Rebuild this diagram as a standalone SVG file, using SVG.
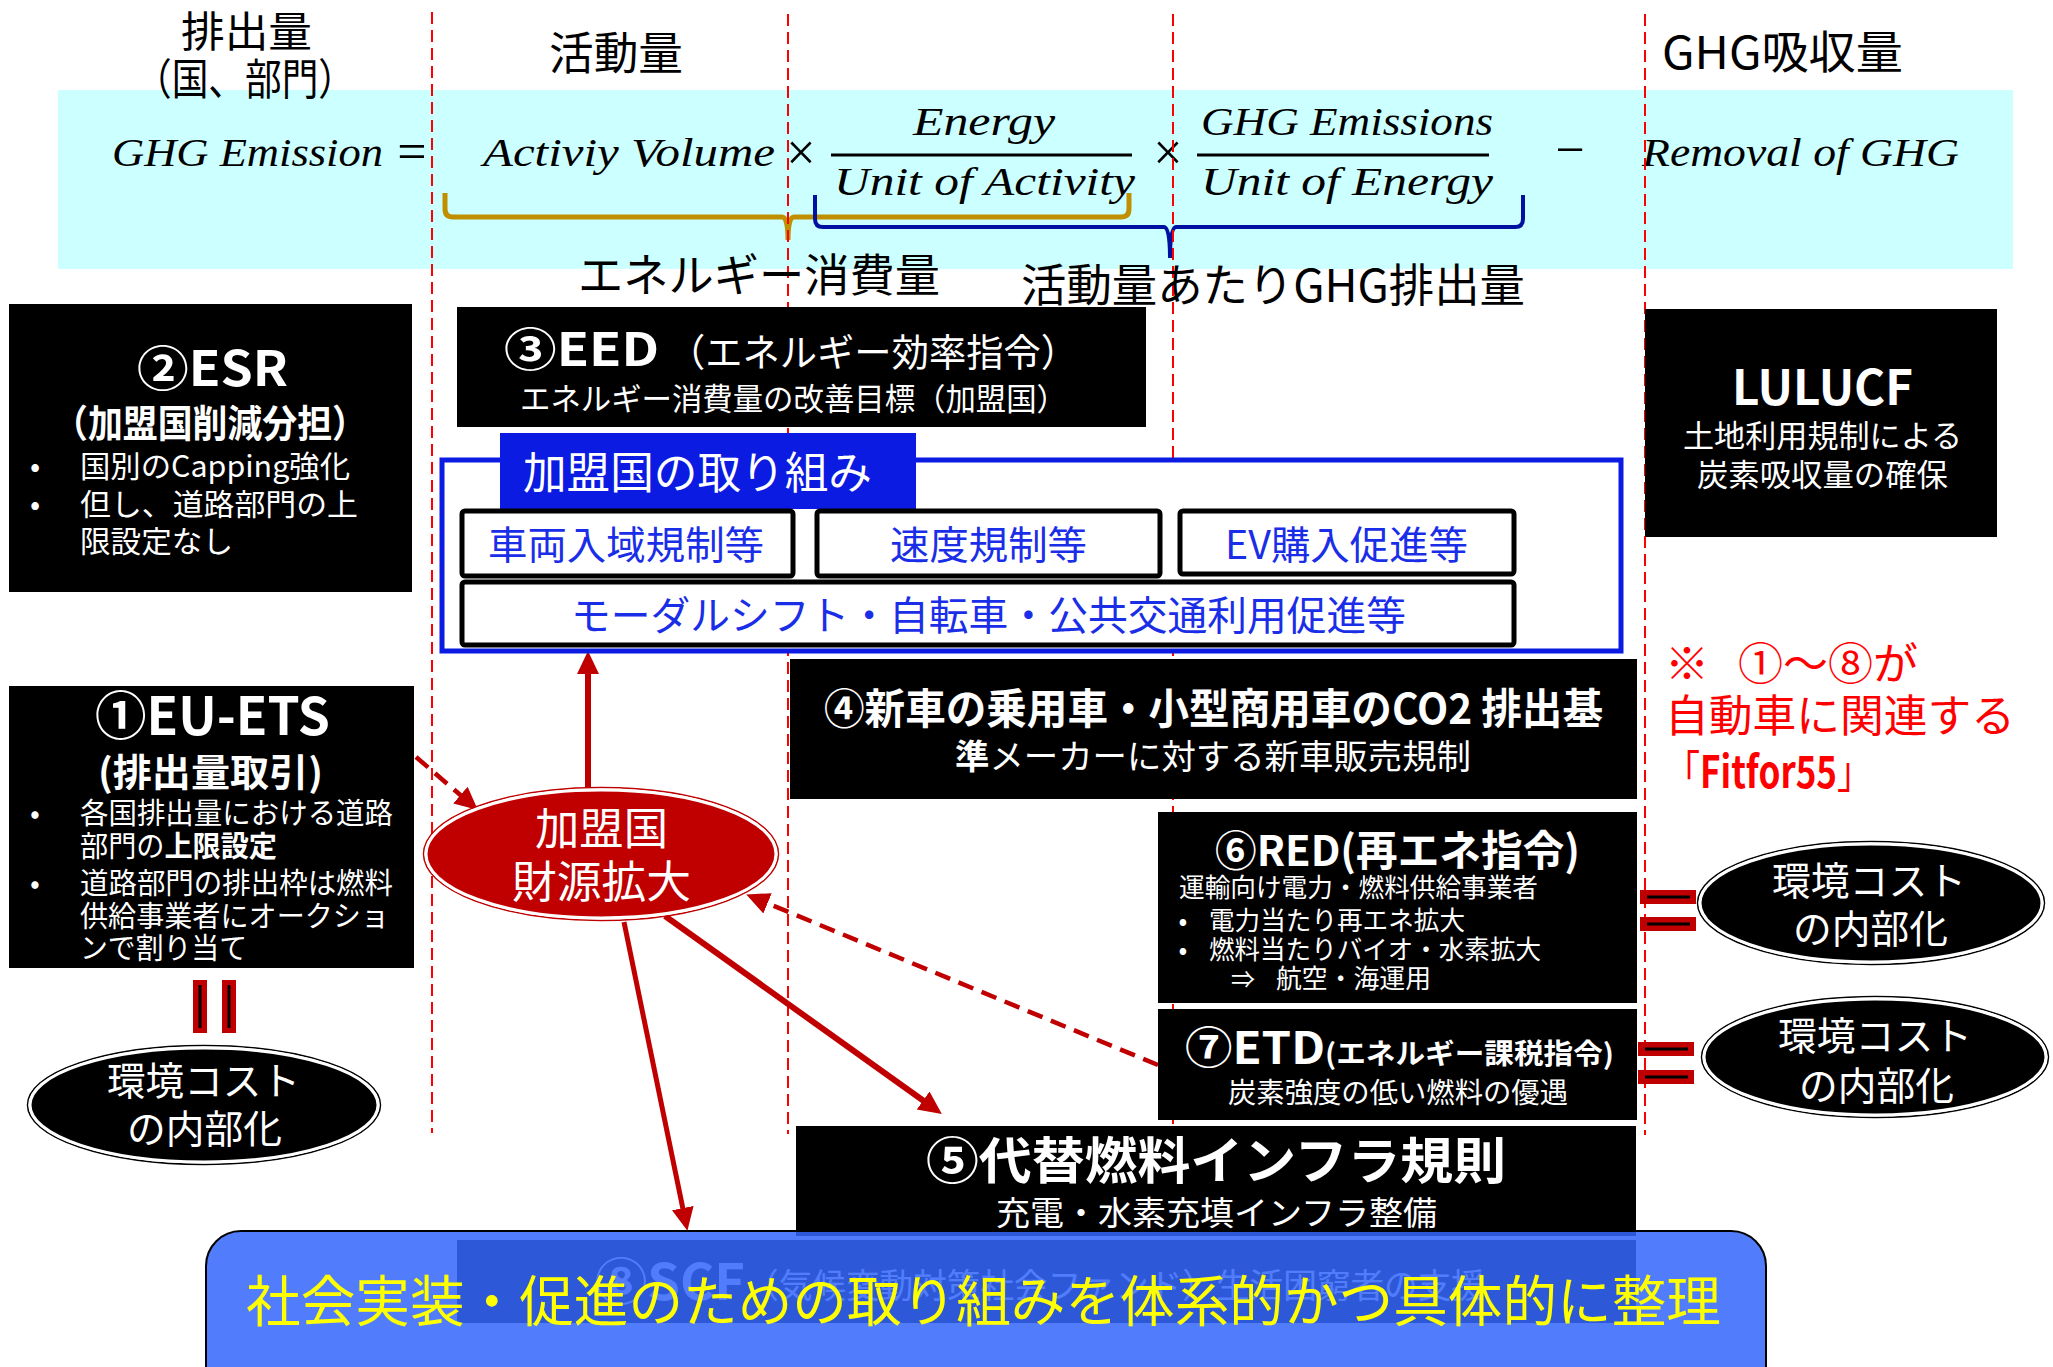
<svg xmlns="http://www.w3.org/2000/svg" width="2053" height="1367" viewBox="0 0 2053 1367">
<style>
.jp{font-family:'Noto Sans CJK JP','Noto Sans',sans-serif}
.w{fill:#fff}
.k{fill:#000}
.b{font-weight:bold}
.m{font-family:'Liberation Serif','DejaVu Serif',serif;font-style:italic;font-size:41px;fill:#000}
.op{font-family:'Liberation Serif','DejaVu Serif',serif;font-size:52px;fill:#000}
.box{fill:#000}
.vd{stroke:#FF0000;stroke-width:2;stroke-dasharray:12 6;fill:none}
.inner{fill:#fff;stroke:#000;stroke-width:5}
.bt{fill:#1A2EE8}
.red{fill:#FF0000}
.eqbar{fill:#C00000}
.eqline{stroke:#000;stroke-width:3}
.arr{stroke:#C00000;fill:none}
</style>
<defs>
<marker id="ah" markerUnits="userSpaceOnUse" markerWidth="24" markerHeight="24" refX="6" refY="12" orient="auto">
<path d="M0,1 L23,12 L0,23 z" fill="#C00000"/>
</marker>
</defs>
<rect width="2053" height="1367" fill="#fff"/>

<!-- formula band -->
<g id="formula">
<rect x="58" y="90" width="1955" height="179" fill="#CCFFFF"/>
<text class="m" x="112" y="166" textLength="271" lengthAdjust="spacingAndGlyphs">GHG Emission</text>
<text class="op" x="412" y="169" text-anchor="middle">=</text>
<text class="m" x="483" y="166" textLength="292" lengthAdjust="spacingAndGlyphs">Activiy Volume</text>
<text class="op" x="801" y="170" text-anchor="middle">×</text>
<line x1="831" y1="155" x2="1132" y2="155" stroke="#000" stroke-width="3"/>
<text class="m" x="913" y="135" textLength="142" lengthAdjust="spacingAndGlyphs">Energy</text>
<text class="m" x="834" y="195" textLength="301" lengthAdjust="spacingAndGlyphs">Unit of Activity</text>
<text class="op" x="1168" y="170" text-anchor="middle">×</text>
<line x1="1197" y1="155" x2="1489" y2="155" stroke="#000" stroke-width="3"/>
<text class="m" x="1201" y="135" textLength="292" lengthAdjust="spacingAndGlyphs">GHG Emissions</text>
<text class="m" x="1201" y="195" textLength="292" lengthAdjust="spacingAndGlyphs">Unit of Energy</text>
<text class="op" x="1570" y="167" text-anchor="middle">−</text>
<text class="m" x="1642" y="166" textLength="317" lengthAdjust="spacingAndGlyphs">Removal of GHG</text>
<path d="M445,193 L445,209 Q445,217 453,217 L782,217 Q788,217 788,240 Q788,217 794,217 L1121,217 Q1129,217 1129,209 L1129,193" fill="none" stroke="#BF8F00" stroke-width="5"/>
<path d="M815,195 L815,219 Q815,227 823,227 L1164,227 Q1170,227 1170,258 Q1170,227 1176,227 L1515,227 Q1523,227 1523,219 L1523,195" fill="none" stroke="#0010A0" stroke-width="4"/>
</g>

<!-- column dividers -->
<g id="dividers">
<line class="vd" x1="432" y1="12" x2="432" y2="1133"/>
<line class="vd" x1="788" y1="14" x2="788" y2="1134"/>
<line class="vd" x1="1173" y1="14" x2="1173" y2="1134"/>
<line class="vd" x1="1645" y1="14" x2="1645" y2="1135"/>
</g>

<!-- headings -->
<g id="headings" class="jp">
<text x="181" y="47" font-size="42" textLength="131" lengthAdjust="spacingAndGlyphs">排出量</text>
<text x="135" y="95" font-size="43" textLength="220" lengthAdjust="spacingAndGlyphs">（国、部門）</text>
<text x="549" y="70" font-size="45" textLength="134" lengthAdjust="spacingAndGlyphs">活動量</text>
<text x="1662" y="69" font-size="45" textLength="241" lengthAdjust="spacingAndGlyphs">GHG吸収量</text>
<text x="578" y="292" font-size="45" textLength="362" lengthAdjust="spacingAndGlyphs">エネルギー消費量</text>
<text x="1021" y="302" font-size="45" textLength="504" lengthAdjust="spacingAndGlyphs">活動量あたりGHG排出量</text>
</g>

<!-- connectors -->
<g id="connectors">
<line class="arr" x1="588" y1="788" x2="588" y2="668" stroke-width="6" marker-end="url(#ah)"/>
<line class="arr" x1="416" y1="757" x2="465" y2="799" stroke-width="4.5" stroke-dasharray="16 9" marker-end="url(#ah)"/>
<line class="arr" x1="665" y1="916" x2="928" y2="1104" stroke-width="6" marker-end="url(#ah)"/>
<line class="arr" x1="624" y1="922" x2="684" y2="1214" stroke-width="5" marker-end="url(#ah)"/>
<line class="arr" x1="1158" y1="1065" x2="762" y2="901" stroke-width="4.5" stroke-dasharray="16 9" marker-end="url(#ah)"/>
<!-- equal signs -->
<rect class="eqbar" x="193" y="980" width="14" height="53"/>
<line class="eqline" x1="200" y1="985" x2="200" y2="1028"/>
<rect class="eqbar" x="222" y="980" width="14" height="53"/>
<line class="eqline" x1="229" y1="985" x2="229" y2="1028"/>
<rect class="eqbar" x="1640" y="890" width="56" height="14"/>
<line class="eqline" x1="1647" y1="897" x2="1690" y2="897"/>
<rect class="eqbar" x="1640" y="917" width="56" height="14"/>
<line class="eqline" x1="1647" y1="924" x2="1690" y2="924"/>
<rect class="eqbar" x="1638" y="1042" width="56" height="14"/>
<line class="eqline" x1="1645" y1="1049" x2="1688" y2="1049"/>
<rect class="eqbar" x="1638" y="1070" width="56" height="14"/>
<line class="eqline" x1="1645" y1="1077" x2="1688" y2="1077"/>
</g>

<!-- ② ESR -->
<g id="node-2-esr" class="jp">
<rect class="box" x="9" y="304" width="403" height="288"/>
<text class="w b" x="137" y="386" font-size="48" textLength="151" lengthAdjust="spacingAndGlyphs">②ESR</text>
<text class="w b" x="53" y="437" font-size="38" textLength="314" lengthAdjust="spacingAndGlyphs">（加盟国削減分担）</text>
<text class="w" x="35" y="477" font-size="30" text-anchor="middle">•</text>
<text class="w" x="80" y="477" font-size="30" textLength="270" lengthAdjust="spacingAndGlyphs">国別のCapping強化</text>
<text class="w" x="35" y="515" font-size="30" text-anchor="middle">•</text>
<text class="w" x="80" y="515" font-size="30" textLength="278" lengthAdjust="spacingAndGlyphs">但し、道路部門の上</text>
<text class="w" x="80" y="552" font-size="30" textLength="153" lengthAdjust="spacingAndGlyphs">限設定なし</text>
</g>

<!-- ③ EED -->
<g id="node-3-eed" class="jp">
<rect class="box" x="457" y="307" width="689" height="120"/>
<text class="w b" x="504" y="366" font-size="46" textLength="155" lengthAdjust="spacingAndGlyphs">③EED</text>
<text class="w" x="668" y="366" font-size="38" textLength="410" lengthAdjust="spacingAndGlyphs">（エネルギー効率指令）</text>
<text class="w" x="520" y="410" font-size="31" textLength="547" lengthAdjust="spacingAndGlyphs">エネルギー消費量の改善目標（加盟国）</text>
</g>

<!-- LULUCF -->
<g id="node-lulucf" class="jp">
<rect class="box" x="1645" y="309" width="352" height="228"/>
<text class="w b" x="1732" y="405" font-size="48" textLength="181" lengthAdjust="spacingAndGlyphs">LULUCF</text>
<text class="w" x="1683" y="447" font-size="31" textLength="279" lengthAdjust="spacingAndGlyphs">土地利用規制による</text>
<text class="w" x="1697" y="486" font-size="31" textLength="251" lengthAdjust="spacingAndGlyphs">炭素吸収量の確保</text>
</g>

<!-- Member state actions -->
<g id="node-member-actions" class="jp">
<rect x="442" y="460" width="1179" height="191" fill="#fff" stroke="#0B1BE2" stroke-width="5"/>
<rect x="500" y="433" width="416" height="76" fill="#0B1BE2"/>
<text class="w" x="523" y="489" font-size="44" textLength="349" lengthAdjust="spacingAndGlyphs">加盟国の取り組み</text>
<rect class="inner" x="462" y="511" width="331" height="65" rx="3"/>
<text class="bt" x="488" y="559" font-size="39" textLength="276" lengthAdjust="spacingAndGlyphs">車両入域規制等</text>
<rect class="inner" x="817" y="511" width="343" height="65" rx="3"/>
<text class="bt" x="890" y="559" font-size="39" textLength="197" lengthAdjust="spacingAndGlyphs">速度規制等</text>
<rect class="inner" x="1180" y="511" width="334" height="63" rx="3"/>
<text class="bt" x="1225" y="559" font-size="39" textLength="243" lengthAdjust="spacingAndGlyphs">EV購入促進等</text>
<rect class="inner" x="462" y="582" width="1052" height="63" rx="3"/>
<text class="bt" x="571" y="630" font-size="40" textLength="835" lengthAdjust="spacingAndGlyphs">モーダルシフト・自転車・公共交通利用促進等</text>
</g>

<!-- ① EU-ETS -->
<g id="node-1-euets" class="jp">
<rect class="box" x="9" y="686" width="405" height="282"/>
<text class="w b" x="95" y="735" font-size="52" textLength="235" lengthAdjust="spacingAndGlyphs">①EU-ETS</text>
<text class="w b" x="98" y="786" font-size="38" textLength="225" lengthAdjust="spacingAndGlyphs">(排出量取引)</text>
<text class="w" x="35" y="824" font-size="29" text-anchor="middle">•</text>
<text class="w" x="80" y="824" font-size="29" textLength="313" lengthAdjust="spacingAndGlyphs">各国排出量における道路</text>
<text class="w" x="80" y="857" font-size="29" textLength="197" lengthAdjust="spacingAndGlyphs">部門の<tspan class="b">上限設定</tspan></text>
<text class="w" x="35" y="894" font-size="29" text-anchor="middle">•</text>
<text class="w" x="80" y="894" font-size="29" textLength="313" lengthAdjust="spacingAndGlyphs">道路部門の排出枠は燃料</text>
<text class="w" x="80" y="927" font-size="29" textLength="309" lengthAdjust="spacingAndGlyphs">供給事業者にオークショ</text>
<text class="w" x="80" y="959" font-size="29" textLength="167" lengthAdjust="spacingAndGlyphs">ンで割り当て</text>
</g>

<!-- environment cost ellipse (left) -->
<g id="node-envcost-1" class="jp">
<ellipse cx="204" cy="1105" rx="176.5" ry="59.5" fill="none" stroke="#000" stroke-width="1.5"/>
<ellipse cx="204" cy="1105" rx="174" ry="57" fill="#000" stroke="#fff" stroke-width="3"/>
<text class="w" x="107" y="1095" font-size="39" textLength="193" lengthAdjust="spacingAndGlyphs">環境コスト</text>
<text class="w" x="127" y="1143" font-size="39" textLength="155" lengthAdjust="spacingAndGlyphs">の内部化</text>
</g>

<!-- Member state revenue ellipse -->
<g id="node-revenue" class="jp">
<ellipse cx="601" cy="854" rx="177.5" ry="66.5" fill="none" stroke="#C00000" stroke-width="1.5"/>
<ellipse cx="601" cy="854" rx="175" ry="64" fill="#C00000" stroke="#fff" stroke-width="3"/>
<text class="w" x="535" y="845" font-size="44" textLength="133" lengthAdjust="spacingAndGlyphs">加盟国</text>
<text class="w" x="512" y="898" font-size="44" textLength="179" lengthAdjust="spacingAndGlyphs">財源拡大</text>
</g>

<!-- ④ -->
<g id="node-4-co2" class="jp">
<rect class="box" x="790" y="659" width="847" height="140"/>
<text class="w b" x="824" y="724" font-size="42" textLength="779" lengthAdjust="spacingAndGlyphs">④新車の乗用車・小型商用車のCO2 排出基</text>
<text class="w" x="955" y="769" font-size="34" textLength="516" lengthAdjust="spacingAndGlyphs"><tspan class="b">準</tspan>メーカーに対する新車販売規制</text>
</g>

<!-- note -->
<g id="note" class="jp">
<text class="red" x="1665" y="680" font-size="44">※</text>
<text class="red" x="1738" y="680" font-size="44" textLength="180" lengthAdjust="spacingAndGlyphs">①～⑧が</text>
<text class="red" x="1665" y="732" font-size="44" textLength="350" lengthAdjust="spacingAndGlyphs">自動車に関連する</text>
<text class="red" x="1665" y="788" font-size="44" textLength="207" lengthAdjust="spacingAndGlyphs">「<tspan class="b">Fitfor55</tspan>」</text>
</g>

<!-- ⑥ RED -->
<g id="node-6-red" class="jp">
<rect class="box" x="1158" y="812" width="479" height="191"/>
<text class="w b" x="1215" y="866" font-size="42" textLength="365" lengthAdjust="spacingAndGlyphs">⑥RED(再エネ指令)</text>
<text class="w" x="1179" y="897" font-size="26" textLength="359" lengthAdjust="spacingAndGlyphs">運輸向け電力・燃料供給事業者</text>
<text class="w" x="1183" y="930" font-size="26" text-anchor="middle">•</text>
<text class="w" x="1209" y="930" font-size="26" textLength="256" lengthAdjust="spacingAndGlyphs">電力当たり再エネ拡大</text>
<text class="w" x="1183" y="959" font-size="26" text-anchor="middle">•</text>
<text class="w" x="1209" y="959" font-size="26" textLength="332" lengthAdjust="spacingAndGlyphs">燃料当たりバイオ・水素拡大</text>
<text class="w" x="1231" y="988" font-size="24">⇒</text>
<text class="w" x="1276" y="988" font-size="26" textLength="155" lengthAdjust="spacingAndGlyphs">航空・海運用</text>
</g>

<!-- ⑦ ETD -->
<g id="node-7-etd" class="jp">
<rect class="box" x="1158" y="1009" width="479" height="111"/>
<text class="w b" x="1185" y="1064" font-size="44" textLength="140" lengthAdjust="spacingAndGlyphs">⑦ETD</text>
<text class="w b" x="1325" y="1064" font-size="28" textLength="289" lengthAdjust="spacingAndGlyphs">(エネルギー課税指令)</text>
<text class="w" x="1228" y="1103" font-size="28" textLength="340" lengthAdjust="spacingAndGlyphs">炭素強度の低い燃料の優遇</text>
</g>

<!-- environment cost ellipses (right) -->
<g id="node-envcost-2" class="jp">
<ellipse cx="1871" cy="903" rx="173.5" ry="61.5" fill="none" stroke="#000" stroke-width="1.5"/>
<ellipse cx="1871" cy="903" rx="171" ry="59" fill="#000" stroke="#fff" stroke-width="3"/>
<text class="w" x="1772" y="895" font-size="39" textLength="194" lengthAdjust="spacingAndGlyphs">環境コスト</text>
<text class="w" x="1793" y="943" font-size="39" textLength="155" lengthAdjust="spacingAndGlyphs">の内部化</text>
</g>
<g id="node-envcost-3" class="jp">
<ellipse cx="1875" cy="1057" rx="173.5" ry="60.5" fill="none" stroke="#000" stroke-width="1.5"/>
<ellipse cx="1875" cy="1057" rx="171" ry="58" fill="#000" stroke="#fff" stroke-width="3"/>
<text class="w" x="1778" y="1050" font-size="39" textLength="194" lengthAdjust="spacingAndGlyphs">環境コスト</text>
<text class="w" x="1799" y="1100" font-size="39" textLength="155" lengthAdjust="spacingAndGlyphs">の内部化</text>
</g>

<!-- ⑤ -->
<g id="node-5-afir" class="jp">
<rect class="box" x="796" y="1126" width="840" height="110"/>
<text class="w b" x="926" y="1179" font-size="50" textLength="580" lengthAdjust="spacingAndGlyphs">⑤代替燃料インフラ規則</text>
<text class="w" x="996" y="1225" font-size="33" textLength="441" lengthAdjust="spacingAndGlyphs">充電・水素充填インフラ整備</text>
</g>

<!-- ⑧ SCF -->
<g id="node-8-scf" class="jp">
<rect class="box" x="457" y="1240" width="1179" height="83"/>
<text class="w b" x="595" y="1300" font-size="50" textLength="150" lengthAdjust="spacingAndGlyphs">⑧SCF</text>
<text class="w" x="745" y="1298" font-size="34" textLength="740" lengthAdjust="spacingAndGlyphs">（気候変動対策社会ファンド）生活困窮者の支援</text>
</g>

<!-- summary banner -->
<g id="node-summary" class="jp">
<rect x="206" y="1231" width="1560" height="180" rx="35" fill="#3468FB" fill-opacity="0.86" stroke="#000" stroke-width="2"/>
<text x="246" y="1321" font-size="55" fill="#FFFF00" textLength="1475" lengthAdjust="spacingAndGlyphs">社会実装・促進のための取り組みを体系的かつ具体的に整理</text>
</g>
</svg>
